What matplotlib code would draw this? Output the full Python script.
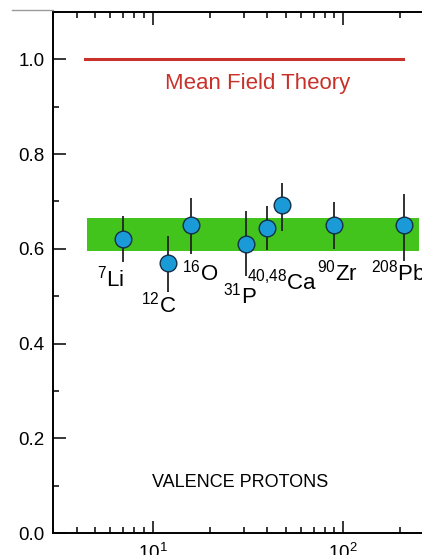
import numpy as np
import matplotlib
matplotlib.use("agg")
import matplotlib.pyplot as plt
from matplotlib.lines import Line2D
from matplotlib.ticker import LogLocator, MultipleLocator

plt.rcParams["font.family"] = ["Liberation Sans", "DejaVu Sans"]
plt.rcParams["mathtext.fontset"] = "custom"
plt.rcParams["mathtext.rm"] = "Liberation Sans"
plt.rcParams["mathtext.it"] = "Liberation Sans:italic"
plt.rcParams["mathtext.default"] = "rm"

# -- data --
n_protons = [7, 12, 16, 31, 40, 48, 90, 208]
ratio     = [0.62, 0.57, 0.65, 0.61, 0.645, 0.693, 0.65, 0.65]
err_lo    = [0.047, 0.062, 0.06, 0.068, 0.048, 0.055, 0.05, 0.075]
err_hi    = [0.05, 0.058, 0.058, 0.07, 0.046, 0.045, 0.048, 0.065]

band_x  = [4.5, 250]
band_lo = 0.595
band_hi = 0.665

mft_x = [4.4, 206]
mft_y = 1.0

labels  = [r"$^{7}$Li", r"$^{12}$C", r"$^{16}$O", r"$^{31}$P",
           r"$^{40{,}48}$Ca", r"$^{90}$Zr", r"$^{208}$Pb"]
label_x = [6.06, 10.7, 17.7, 28.8, 48.0, 93.5, 196]
label_y = [0.52, 0.466, 0.533, 0.484, 0.514, 0.534, 0.533]

RED   = "#c8322a"
GREEN = "#43c41c"
BLUE  = "#1b9ad8"

fig = plt.figure(figsize=(4.22, 5.55), dpi=100)
ax = fig.add_axes([53 / 422, 22 / 555, 381 / 422, 521 / 555])

# thin grey rule at top-left (page crop)
fig.add_artist(Line2D([12 / 422, 53 / 422], [545 / 555, 545 / 555],
                      color="#9a9a9a", lw=1.0))

ax.fill_between(band_x, band_lo, band_hi, color=GREEN, lw=0, zorder=1)
ax.plot(mft_x, [mft_y, mft_y], color=RED, lw=2.2, zorder=2)

ax.errorbar(n_protons, ratio, yerr=[err_lo, err_hi], fmt="o", ms=12,
            mfc=BLUE, mec="#123048", mew=1.0, ecolor="#222222",
            elinewidth=1.3, capsize=0, zorder=3)

for txt, x, y in zip(labels, label_x, label_y):
    ax.text(x, y, txt, fontsize=16, ha="center", va="baseline", zorder=4)

ax.text(35.5, 0.937, "Mean Field Theory", color=RED, fontsize=16,
        ha="center", va="baseline")
ax.text(28.7, 0.097, "VALENCE PROTONS", fontsize=13,
        ha="center", va="baseline")

ax.set_xscale("log")
ax.set_xlim(3, 300)
ax.set_ylim(0.0, 1.1)

ax.xaxis.set_major_locator(LogLocator(base=10, numticks=10))
ax.xaxis.set_minor_locator(LogLocator(base=10, subs=np.arange(2, 10), numticks=10))
ax.yaxis.set_major_locator(MultipleLocator(0.2))
ax.yaxis.set_minor_locator(MultipleLocator(0.1))
ax.yaxis.set_major_formatter(plt.FormatStrFormatter("%.1f"))

ax.tick_params(which="both", direction="in", top=True, right=True,
               width=1.1, colors="black", labelsize=13.5)
ax.tick_params(which="major", length=9)
ax.tick_params(which="minor", length=4.5)
ax.tick_params(axis="y", pad=6)
ax.tick_params(axis="x", pad=7)

for s in ax.spines.values():
    s.set_linewidth(1.4)

fig.savefig("out.png", dpi=100)
